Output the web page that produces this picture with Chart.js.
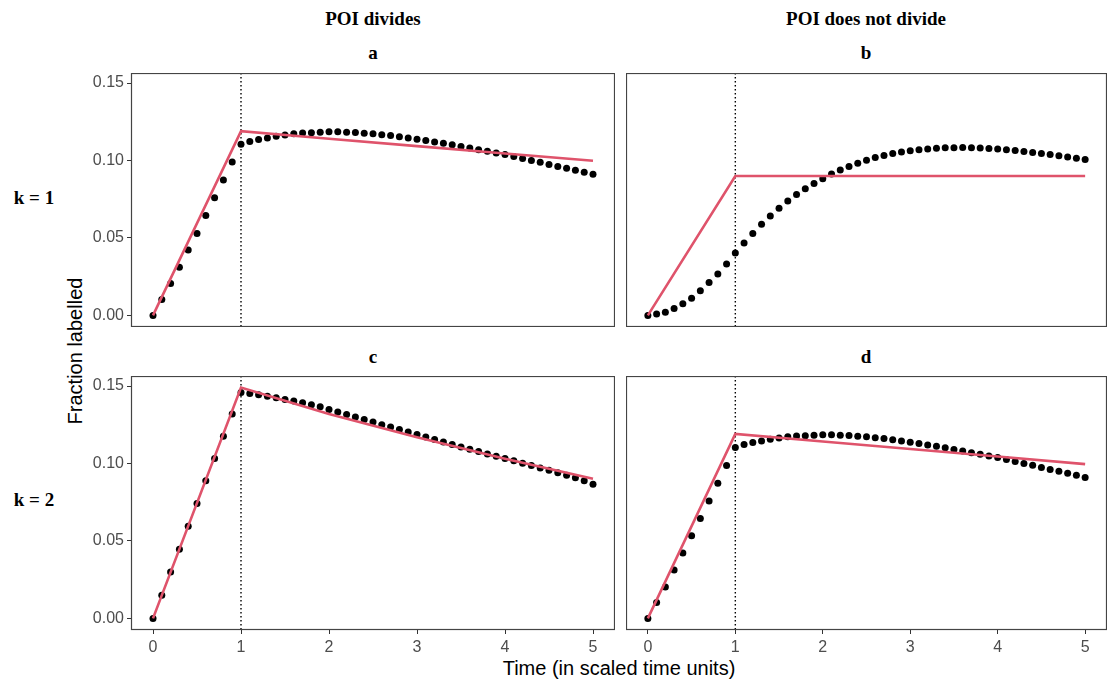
<!DOCTYPE html>
<html>
<head>
<meta charset="utf-8">
<script src="https://cdn.jsdelivr.net/npm/chart.js@4.4.0/dist/chart.umd.min.js"></script>
<style>
    body { margin: 0; background: #fff; width: 1107px; height: 684px; position: relative; overflow: hidden; font-family: "Liberation Sans", Arial, sans-serif; }
    canvas { position: absolute; }
    .strip { position: absolute; font-family: "Liberation Serif", "Times New Roman", serif; font-weight: bold; font-size: 19px; color: #000; white-space: nowrap; transform: translate(-50%, -50%); }
    .axis-title { position: absolute; font-size: 20px; color: #000; white-space: nowrap; transform: translate(-50%, -50%); }
</style>
</head>
<body>
<div class="strip" style="left:373px;top:19px">POI divides</div>
<div class="strip" style="left:866px;top:19px">POI does not divide</div>
<div class="strip" id="lab-a" style="left:373px;top:53px"></div>
<div class="strip" id="lab-b" style="left:866px;top:53px"></div>
<div class="strip" id="lab-c" style="left:373px;top:357px"></div>
<div class="strip" id="lab-d" style="left:866px;top:357px"></div>
<div class="strip" id="row-1" style="left:34px;top:198px"></div>
<div class="strip" id="row-2" style="left:34px;top:500px"></div>
<div class="axis-title" style="left:75px;top:351px;transform:translate(-50%,-50%) rotate(-90deg)">Fraction labelled</div>
<div class="axis-title" style="left:619px;top:668px">Time (in scaled time units)</div>

<canvas id="panel-a" width="535" height="254" style="left:80px;top:73px"></canvas>
<canvas id="panel-b" width="481" height="254" style="left:626px;top:73px"></canvas>
<canvas id="panel-c" width="535" height="284" style="left:80px;top:376px"></canvas>
<canvas id="panel-d" width="481" height="284" style="left:626px;top:376px"></canvas>

<script>
var timeDots = [0, 0.1, 0.2, 0.3, 0.4, 0.5, 0.6, 0.7, 0.8, 0.9, 1.0,
    1.1, 1.2, 1.3, 1.4, 1.5, 1.6, 1.7, 1.8, 1.9, 2.0,
    2.1, 2.2, 2.3, 2.4, 2.5, 2.6, 2.7, 2.8, 2.9, 3.0,
    3.1, 3.2, 3.3, 3.4, 3.5, 3.6, 3.7, 3.8, 3.9, 4.0,
    4.1, 4.2, 4.3, 4.4, 4.5, 4.6, 4.7, 4.8, 4.9, 5.0];
var timeModel = [0, 1, 2, 3, 4, 5];
var xTicks = [0, 1, 2, 3, 4, 5];
var yTicks = [0, 0.05, 0.10, 0.15];
var divisionTime = 1;

var panelNames = ["a", "b", "c", "d"];
var rowNames = ["k = 1", "k = 2"];

// a: divides, k = 1
var dotsA = [0, 0.0103, 0.0206, 0.0310, 0.0422, 0.0529, 0.0645, 0.0760, 0.0874, 0.0990, 0.1105,
    0.1122, 0.1135, 0.1146, 0.1157, 0.1165, 0.1172, 0.1177, 0.1180, 0.1183, 0.1185,
    0.1185, 0.1183, 0.1181, 0.1176, 0.1172, 0.1167, 0.1161, 0.1153, 0.1146, 0.1138,
    0.1129, 0.1120, 0.1111, 0.1101, 0.1091, 0.1080, 0.1070, 0.1060, 0.1049, 0.1039,
    0.1026, 0.1013, 0.1000, 0.0988, 0.0975, 0.0962, 0.0950, 0.0937, 0.0924, 0.0911];
var modelA = [0, 0.1189, 0.1140, 0.1093, 0.1045, 0.0998];

// b: does not divide, k = 1
var dotsB = [0, 0.0009, 0.0021, 0.0045, 0.0075, 0.0111, 0.0159, 0.0212, 0.0268, 0.0332, 0.0403,
    0.0467, 0.0529, 0.0588, 0.0642, 0.0692, 0.0738, 0.0780, 0.0818, 0.0852, 0.0883,
    0.0913, 0.0938, 0.0962, 0.0983, 0.1002, 0.1019, 0.1033, 0.1045, 0.1055, 0.1063,
    0.1069, 0.1075, 0.1079, 0.1082, 0.1083, 0.1084, 0.1083, 0.1081, 0.1078, 0.1074,
    0.1069, 0.1064, 0.1058, 0.1052, 0.1046, 0.1039, 0.1031, 0.1023, 0.1015, 0.1007];
var modelB = [0, 0.0900, 0.0900, 0.0900, 0.0900, 0.0900];

// c: divides, k = 2
var dotsC = [0, 0.0150, 0.0300, 0.0447, 0.0595, 0.0741, 0.0889, 0.1032, 0.1176, 0.1319, 0.1459,
    0.1452, 0.1444, 0.1435, 0.1425, 0.1414, 0.1403, 0.1392, 0.1379, 0.1366, 0.1349,
    0.1332, 0.1316, 0.1300, 0.1284, 0.1268, 0.1251, 0.1235, 0.1219, 0.1203, 0.1187,
    0.1171, 0.1155, 0.1139, 0.1122, 0.1107, 0.1092, 0.1077, 0.1062, 0.1047, 0.1032,
    0.1017, 0.1002, 0.0987, 0.0971, 0.0956, 0.0940, 0.0924, 0.0908, 0.0888, 0.0866];
var modelC = [0, 0.1490, 0.1320, 0.1170, 0.1030, 0.0902];

// d: does not divide, k = 2
var dotsD = [0, 0.0103, 0.0203, 0.0312, 0.0422, 0.0533, 0.0645, 0.0758, 0.0872, 0.0987, 0.1103,
    0.1122, 0.1135, 0.1146, 0.1157, 0.1165, 0.1172, 0.1177, 0.1180, 0.1183, 0.1185,
    0.1185, 0.1183, 0.1181, 0.1176, 0.1172, 0.1167, 0.1161, 0.1153, 0.1146, 0.1138,
    0.1129, 0.1120, 0.1111, 0.1101, 0.1091, 0.1080, 0.1070, 0.1060, 0.1049, 0.1039,
    0.1026, 0.1013, 0.1000, 0.0988, 0.0975, 0.0962, 0.0950, 0.0937, 0.0924, 0.0910];
var modelD = [0, 0.1191, 0.1142, 0.1094, 0.1045, 0.0996];

var ToPoints = (xs, ys) => xs.map((x, i) => ({ x: x, y: ys[i] }));

// dotted vline at division time + grey panel border
var panelFrame = {
    id: 'panelFrame',
    beforeDatasetsDraw: (chart) => {
        var ctx = chart.ctx, a = chart.chartArea;
        var px = chart.scales.x.getPixelForValue(divisionTime);
        ctx.save();
        ctx.strokeStyle = '#000';
        ctx.lineWidth = 1.4;
        ctx.setLineDash([1.5, 2.5]);
        ctx.beginPath();
        ctx.moveTo(px, a.top);
        ctx.lineTo(px, a.bottom);
        ctx.stroke();
        ctx.restore();
    },
    afterDraw: (chart) => {
        var ctx = chart.ctx, a = chart.chartArea;
        ctx.save();
        ctx.strokeStyle = '#444';
        ctx.lineWidth = 1.2;
        ctx.strokeRect(a.left + 0.5, a.top + 0.5, a.right - a.left - 1, a.bottom - a.top - 1);
        ctx.restore();
    }
};

var tickFont = { family: 'Liberation Sans', size: 16 };

var MakePanel = (id, dots, model, showY, showX) => {
    new Chart(document.getElementById(id), {
        type: 'scatter',
        data: {
            datasets: [{
                type: 'line',
                data: ToPoints(timeModel, model),
                borderColor: '#DF536B',
                borderWidth: 2.6,
                pointRadius: 0,
                fill: false,
                tension: 0
            }, {
                data: ToPoints(timeDots, dots),
                backgroundColor: '#000',
                borderWidth: 0,
                pointRadius: 3.5
            }]
        },
        options: {
            responsive: false,
            animation: false,
            events: [],
            layout: { padding: 0, autoPadding: false },
            plugins: { legend: { display: false }, tooltip: { enabled: false } },
            scales: {
                x: {
                    type: 'linear', min: -0.25, max: 5.25, display: showX,
                    afterBuildTicks: (s) => { s.ticks = xTicks.map(v => ({ value: v })); },
                    afterFit: (s) => { s.height = showX ? 30 : 0; s.paddingLeft = 0; s.paddingRight = 0; },
                    grid: { drawOnChartArea: false, tickLength: 4, color: '#333' },
                    border: { display: false },
                    ticks: { padding: 4, color: '#4D4D4D', font: tickFont, callback: (v) => String(v) }
                },
                y: {
                    type: 'linear', min: -0.0075, max: 0.1565, display: showY,
                    afterBuildTicks: (s) => { s.ticks = yTicks.map(v => ({ value: v })); },
                    afterFit: (s) => { s.width = showY ? 51 : 0; s.paddingTop = 0; s.paddingBottom = 0; },
                    grid: { drawOnChartArea: false, tickLength: 4, color: '#333' },
                    border: { display: false },
                    ticks: { padding: 3, color: '#4D4D4D', font: tickFont, callback: (v) => v.toFixed(2) }
                }
            }
        },
        plugins: [panelFrame]
    });
};

var PageLoad = () => {
    for (var i = 0; i < panelNames.length; i++) {
        document.getElementById('lab-' + panelNames[i]).textContent = panelNames[i];
    }
    document.getElementById('row-1').textContent = rowNames[0];
    document.getElementById('row-2').textContent = rowNames[1];
    MakePanel('panel-a', dotsA, modelA, true, false);
    MakePanel('panel-b', dotsB, modelB, false, false);
    MakePanel('panel-c', dotsC, modelC, true, true);
    MakePanel('panel-d', dotsD, modelD, false, true);
};
PageLoad();
</script>
</body>
</html>
